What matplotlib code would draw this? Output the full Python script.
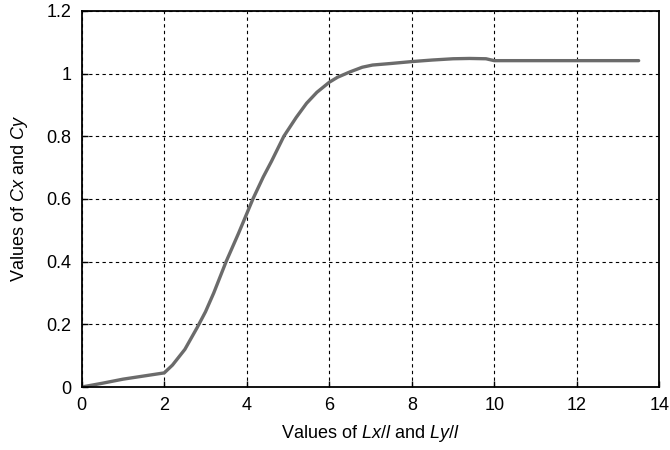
import matplotlib
matplotlib.use("Agg")
import matplotlib.pyplot as plt

plt.rcParams["font.family"] = ["Liberation Sans", "DejaVu Sans"]
plt.rcParams["mathtext.fontset"] = "custom"
plt.rcParams["mathtext.rm"] = "Liberation Sans"
plt.rcParams["mathtext.it"] = "Liberation Sans:italic"

# curve
ratio = [0, 0.5, 1.0, 1.5, 2.0, 2.2, 2.5, 2.8, 3.0, 3.2, 3.5, 3.8, 4.15, 4.4,
         4.6, 4.9, 5.2, 5.45, 5.7, 6.0, 6.2, 6.5, 6.8, 7.05, 7.5, 8.0, 8.5,
         9.0, 9.4, 9.8, 10.0, 11.0, 12.0, 13.5]
coef = [0, 0.012, 0.025, 0.035, 0.045, 0.07, 0.12, 0.19, 0.24, 0.30, 0.40,
        0.49, 0.60, 0.67, 0.72, 0.80, 0.86, 0.905, 0.94, 0.972, 0.988, 1.005,
        1.02, 1.027, 1.032, 1.038, 1.043, 1.047, 1.048, 1.047, 1.041, 1.041,
        1.041, 1.041]

x_ticks = [0, 2, 4, 6, 8, 10, 12, 14]
y_ticks = [0, 0.2, 0.4, 0.6, 0.8, 1.0, 1.2]
y_labels = ["0", "0.2", "0.4", "0.6", "0.8", "1", "1.2"]

fig = plt.figure(figsize=(6.7, 4.5), dpi=100)
ax = fig.add_axes([0.122, 0.140, 0.862, 0.836])

ax.plot(ratio, coef, color="#6b6b6b", linewidth=2.4, solid_capstyle="round")

ax.set_xlim(0, 14)
ax.set_ylim(0, 1.2)
ax.set_xticks(x_ticks)
ax.set_yticks(y_ticks)
ax.set_yticklabels(y_labels)
ax.grid(True, color="black", linestyle=(0, (3, 3)), linewidth=0.8)
ax.tick_params(direction="in", length=4, width=1, labelsize=13, pad=7.5)
for s in ax.spines.values():
    s.set_linewidth(1.3)

ax.set_xlabel("Values of $\\it{Lx/l}$ and $\\it{Ly/l}$", fontsize=13, labelpad=6)
ax.set_ylabel("Values of $\\it{Cx}$ and $\\it{Cy}$", fontsize=13, labelpad=12)

fig.savefig("out.png", dpi=100)
